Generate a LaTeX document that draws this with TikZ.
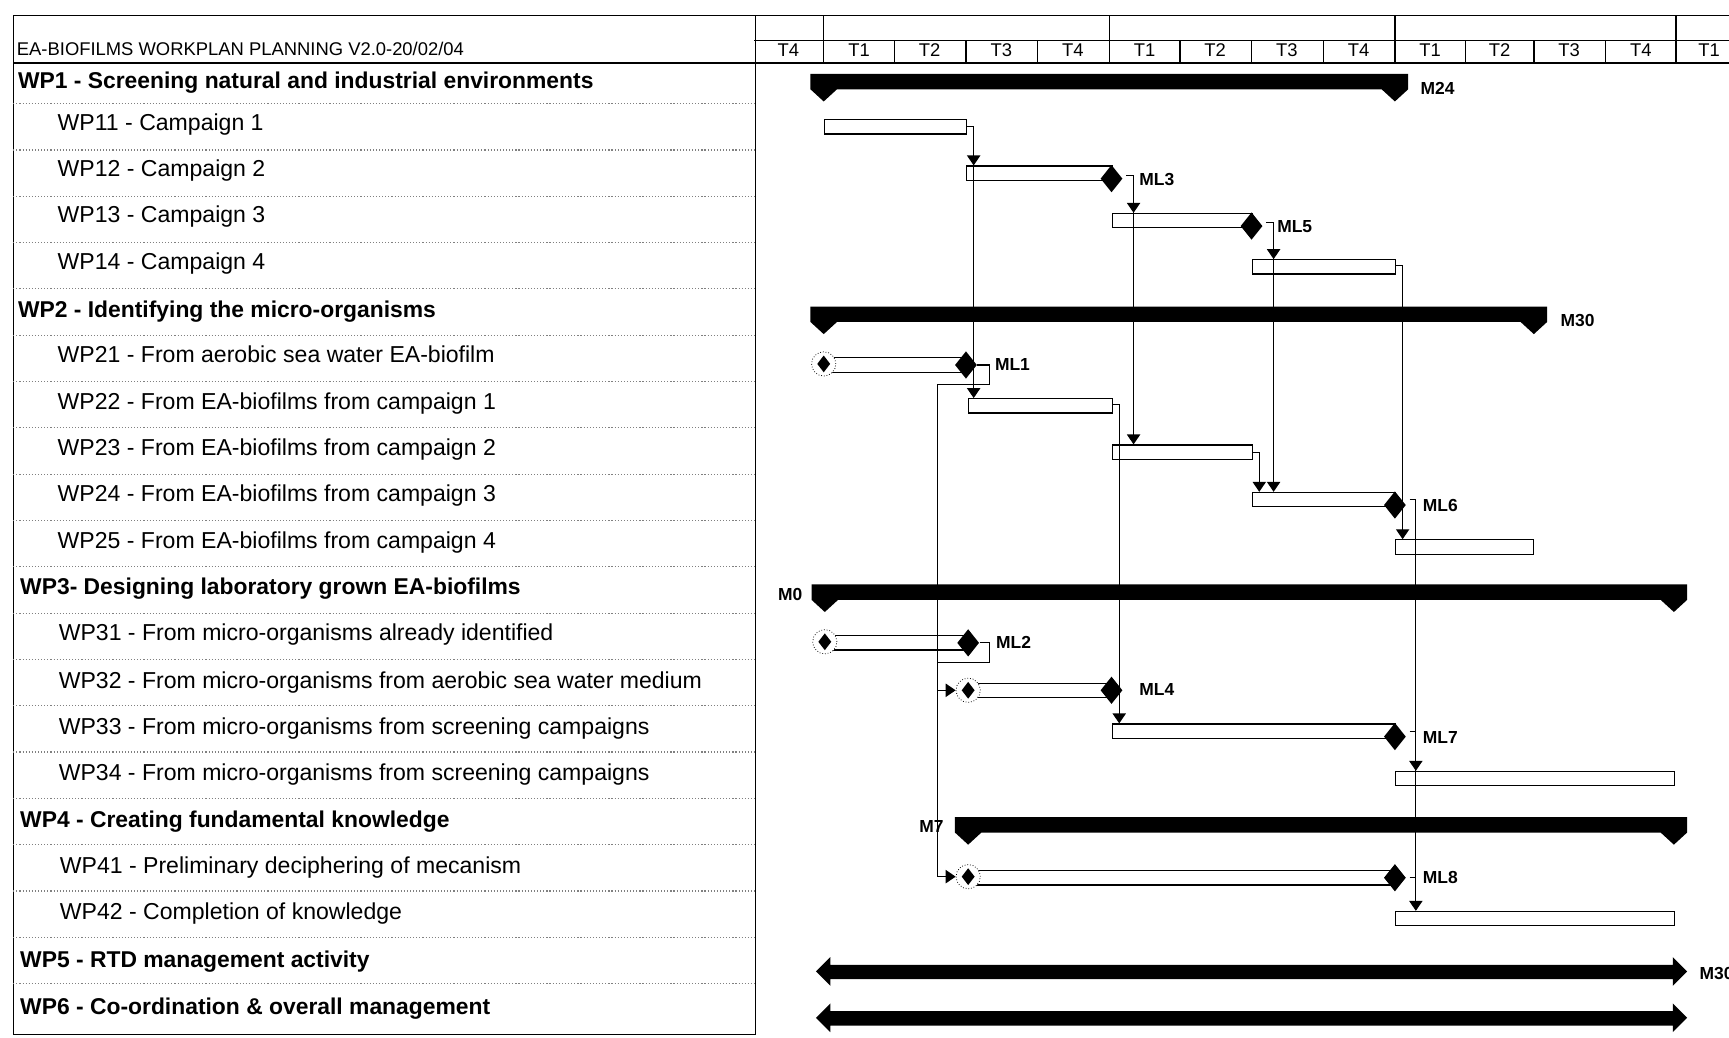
\documentclass[tikz,border=0pt]{standalone}
\usepackage{fontspec}
\setmainfont{Liberation Sans}
\usetikzlibrary{shapes.geometric,arrows.meta}

\tikzset{
    wpmain/.style={anchor=base west, inner sep=0, font=\bfseries\fontsize{11.8}{13}\selectfont},
    wpsub/.style={anchor=base west, inner sep=0, font=\fontsize{11.9}{13}\selectfont},
    qlabel/.style={anchor=base, inner sep=0, font=\fontsize{9.5}{11}\selectfont},
    mlabel/.style={anchor=base west, inner sep=0, font=\bfseries\fontsize{9}{10}\selectfont},
    taskbar/.style={draw, fill=white, anchor=north west, inner sep=0, minimum height=0.26cm, line width=0.6pt},
    mstone/.style={diamond, fill=black, inner sep=0, minimum width=0.4cm, minimum height=0.5cm},
    startms/.style={circle, draw, densely dotted, fill=white, inner sep=0, minimum size=0.44cm},
    smalldia/.style={diamond, fill=black, inner sep=0, minimum width=0.24cm, minimum height=0.31cm},
    link/.style={line width=0.6pt},
    linkend/.style={line width=0.6pt, -{Triangle[width=0.24cm,length=0.18cm]}},
    rowsep/.style={gray, densely dotted, line width=0.6pt},
    frame/.style={line width=0.7pt},
}

% summary bar: left time, right time, top of bar
\newcommand{\sumbar}[3]{%
    \fill (#1-12,#3) -- (#2+12,#3) -- (#2+12,#3+14) -- (#2,#3+25) -- (#2-12,#3+14)
        -- (#1+12,#3+14) -- (#1,#3+25) -- (#1-12,#3+14) -- cycle;}
% double headed bar: left tip, right tip, middle
\newcommand{\dblbar}[3]{%
    \fill (#1,#3) -- (#1+13,#3-13) -- (#1+13,#3-6) -- (#2-13,#3-6) -- (#2-13,#3-13)
        -- (#2,#3) -- (#2-13,#3+13) -- (#2-13,#3+7) -- (#1+13,#3+7) -- (#1+13,#3+13) -- cycle;}

\begin{document}
\begin{tikzpicture}[x=0.02cm, y=-0.02cm]
\path[use as bounding box] (0,0) rectangle (1568,941);
\clip (0,0) rectangle (1568,941);

%table frame
\draw[frame] (12,14) -- (1568,14);
\draw[frame] (684,37) -- (1568,37);
\draw[frame] (12,57) -- (1568,57);
\draw[frame] (12,14) -- (12,938) -- (685,938) -- (685,14);
\foreach \x in {747,1006,1265,1520} \draw[frame] (\x,14) -- (\x,57);
\foreach \x in {811,876,941,1070,1135,1200,1329,1391,1456} \draw[frame] (\x,37) -- (\x,57);
\foreach \y in {94,136,...,892} \draw[rowsep] (12,\y) -- (685,\y);

\node[anchor=base west, inner sep=0, font=\fontsize{9.5}{11}\selectfont] (title) at (15,50) {EA-BIOFILMS WORKPLAN PLANNING V2.0-20/02/04};

%quarters
\node[qlabel] (q0) at (715,51) {T4};
\node[qlabel] (q1) at (779,51) {T1};
\node[qlabel] (q2) at (843,51) {T2};
\node[qlabel] (q3) at (908,51) {T3};
\node[qlabel] (q4) at (973,51) {T4};
\node[qlabel] (q5) at (1038,51) {T1};
\node[qlabel] (q6) at (1102,51) {T2};
\node[qlabel] (q7) at (1167,51) {T3};
\node[qlabel] (q8) at (1232,51) {T4};
\node[qlabel] (q9) at (1297,51) {T1};
\node[qlabel] (q10) at (1360,51) {T2};
\node[qlabel] (q11) at (1423,51) {T3};
\node[qlabel] (q12) at (1488,51) {T4};
\node[qlabel] (q13) at (1550,51) {T1};

%work packages
\node[wpmain] (wp1) at (16,80) {WP1 - Screening natural and industrial environments};
\node[wpsub] (wp11) at (52,118) {WP11 - Campaign 1};
\node[wpsub] (wp12) at (52,160) {WP12 - Campaign 2};
\node[wpsub] (wp13) at (52,202) {WP13 - Campaign 3};
\node[wpsub] (wp14) at (52,244) {WP14 - Campaign 4};
\node[wpmain] (wp2) at (16,288) {WP2 - Identifying the micro-organisms};
\node[wpsub] (wp21) at (52,329) {WP21 - From aerobic sea water EA-biofilm};
\node[wpsub] (wp22) at (52,371) {WP22 - From EA-biofilms from campaign 1};
\node[wpsub] (wp23) at (52,413) {WP23 - From EA-biofilms from campaign 2};
\node[wpsub] (wp24) at (52,455) {WP24 - From EA-biofilms from campaign 3};
\node[wpsub] (wp25) at (52,497) {WP25 - From EA-biofilms from campaign 4};
\node[wpmain] (wp3) at (18,539) {WP3- Designing laboratory grown EA-biofilms};
\node[wpsub] (wp31) at (53,581) {WP31 - From micro-organisms already identified};
\node[wpsub] (wp32) at (53,624) {WP32 - From micro-organisms from aerobic sea water medium};
\node[wpsub] (wp33) at (53,666) {WP33 - From micro-organisms from screening campaigns};
\node[wpsub] (wp34) at (53,708) {WP34 - From micro-organisms from screening campaigns};
\node[wpmain] (wp4) at (18,750) {WP4 - Creating fundamental knowledge};
\node[wpsub] (wp41) at (54,792) {WP41 - Preliminary deciphering of mecanism};
\node[wpsub] (wp42) at (54,834) {WP42 - Completion of knowledge};
\node[wpmain] (wp5) at (18,877) {WP5 - RTD management activity};
\node[wpmain] (wp6) at (18,920) {WP6 - Co-ordination \& overall management};

%summary bars
\sumbar{747}{1265}{67}
\sumbar{747}{1391}{278}
\sumbar{748}{1518}{530}
\sumbar{878}{1518}{741}
\dblbar{740}{1530}{881}
\dblbar{740}{1530}{923}
\node[mlabel] (m24) at (1288,86) {M24};
\node[mlabel] (m30a) at (1415,296) {M30};
\node[mlabel, anchor=base east] (m0) at (728,545) {M0};
\node[mlabel, anchor=base east] (m7) at (856,755) {M7};
\node[mlabel] (m30b) at (1541,888) {M30};

%tasks
\node[taskbar, minimum width={(876-747)*0.02cm}] (b11) at (747,108) {};
\node[taskbar, minimum width={(1008-876)*0.02cm}] (b12) at (876,150) {};
\node[taskbar, minimum width={(1135-1008)*0.02cm}] (b13) at (1008,193) {};
\node[taskbar, minimum width={(1265-1135)*0.02cm}] (b14) at (1135,235) {};
\node[taskbar, minimum width={(876-747)*0.02cm}] (b21) at (747,324) {};
\node[taskbar, minimum width={(1008-878)*0.02cm}] (b22) at (878,361) {};
\node[taskbar, minimum width={(1135-1008)*0.02cm}] (b23) at (1008,403) {};
\node[taskbar, minimum width={(1265-1135)*0.02cm}] (b24) at (1135,446) {};
\node[taskbar, minimum width={(1390-1265)*0.02cm}] (b25) at (1265,489) {};
\node[taskbar, minimum width={(878-748)*0.02cm}] (b31) at (748,576) {};
\node[taskbar, minimum width={(1008-878)*0.02cm}] (b32) at (878,619) {};
\node[taskbar, minimum width={(1265-1008)*0.02cm}] (b33) at (1008,656) {};
\node[taskbar, minimum width={(1518-1265)*0.02cm}] (b34) at (1265,699) {};
\node[taskbar, minimum width={(1265-878)*0.02cm}] (b41) at (878,789) {};
\node[taskbar, minimum width={(1518-1265)*0.02cm}] (b42) at (1265,826) {};

%start milestones
\node[startms] (s21) at (747,330) {};
\node[smalldia] (s21d) at (s21) {};
\node[startms] (s31) at (748,582) {};
\node[smalldia] (s31d) at (s31) {};
\node[startms] (s32) at (878,626) {};
\node[smalldia] (s32d) at (s32) {};
\node[startms] (s41) at (878,795) {};
\node[smalldia] (s41d) at (s41) {};

%milestones
\node[mstone] (ml1) at (876,331) {};
\node[mstone] (ml2) at (878,583) {};
\node[mstone] (ml3) at (1008,162) {};
\node[mstone] (ml4) at (1008,626) {};
\node[mstone] (ml5) at (1135,205) {};
\node[mstone] (ml6) at (1265,458) {};
\node[mstone] (ml7) at (1265,668) {};
\node[mstone] (ml8) at (1265,796) {};
\node[mlabel] (lml1) at (902,336) {ML1};
\node[mlabel] (lml2) at (903,588) {ML2};
\node[mlabel] (lml3) at (1033,168) {ML3};
\node[mlabel] (lml4) at (1033,631) {ML4};
\node[mlabel] (lml5) at (1158,211) {ML5};
\node[mlabel] (lml6) at (1290,464) {ML6};
\node[mlabel] (lml7) at (1290,674) {ML7};
\node[mlabel] (lml8) at (1290,801) {ML8};

%links
\coordinate (k11) at (883,115);
\draw[linkend] (b11.east |- k11) -- (k11) -- (k11 |- b22.north);
\draw[linkend] (k11 |- b12.north) ++(0,-12) -- (k11 |- b12.north);

\coordinate (k1) at (897,331);
\coordinate (k1b) at (850,349);
\draw[link] (ml1.east) -- (k1) -- (k1 |- k1b) -- (k1b) -- (k1b |- s41);
\draw[linkend] (k1b |- s41) -- (s41.west);
\draw[linkend] (k1b |- s32) -- (s32.west);

\coordinate (k2) at (897,583);
\draw[link] (ml2.east) -- (k2) -- (k2 |- 0,601) -- (k1b |- 0,601);

\coordinate (k3) at (1028,159);
\draw[linkend] (ml3.east |- k3) ++(3,0) -- (k3) -- (k3 |- b23.north);
\draw[linkend] (k3 |- b13.north) ++(0,-12) -- (k3 |- b13.north);

\coordinate (k5) at (1155,202);
\draw[linkend] (ml5.east |- k5) ++(3,0) -- (k5) -- (k5 |- b24.north);
\draw[linkend] (k5 |- b14.north) ++(0,-12) -- (k5 |- b14.north);

\coordinate (k14) at (1272,241);
\draw[linkend] (b14.east |- k14) -- (k14) -- (k14 |- b25.north);

\coordinate (k22) at (1015,367);
\draw[linkend] (b22.east |- k22) -- (k22) -- (k22 |- b33.north);

\coordinate (k23) at (1142,410);
\draw[linkend] (b23.east |- k23) -- (k23) -- (k23 |- b24.north);

\coordinate (k6) at (1284,453);
\draw[linkend] (ml6.east |- k6) ++(3,0) -- (k6) -- (k6 |- b42.north);
\draw[linkend] (k6 |- b34.north) ++(0,-12) -- (k6 |- b34.north);
\draw[link] (ml7.east |- 0,663) ++(3,0) -- (k6 |- 0,663);
\draw[link] (ml8.east) ++(3,0) -- (k6 |- ml8);

\end{tikzpicture}
\end{document}
